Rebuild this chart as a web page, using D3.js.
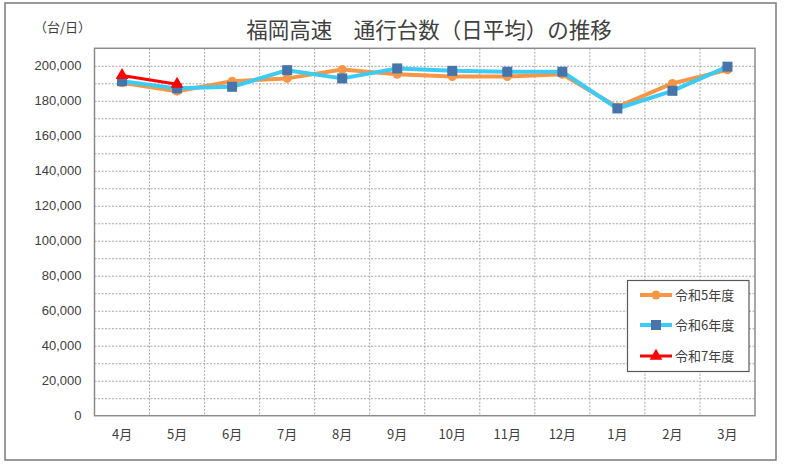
<!DOCTYPE html>
<html>
<head>
<meta charset="utf-8">
<script src="https://cdn.jsdelivr.net/npm/d3@7"></script>
<style>
  body { margin: 0; background: #fff; }
  svg text { font-family: "Noto Sans CJK JP", "Noto Sans", sans-serif; fill: #333; }
</style>
</head>
<body>
<svg id="chart" width="786" height="467"></svg>
<script>
// === Données ===
const months = ["4月", "5月", "6月", "7月", "8月", "9月", "10月", "11月", "12月", "1月", "2月", "3月"];
const r5 = [190300, 185500, 191200, 192800, 197900, 195100, 193900, 193900, 195100, 176500, 189900, 197700];
const r6 = [191200, 187100, 188000, 197500, 192800, 198500, 197100, 196600, 196600, 175600, 185700, 199500];
const r7 = [194500, 189500];
const yTicks = [0, 20000, 40000, 60000, 80000, 100000, 120000, 140000, 160000, 180000, 200000];
const seriesNames = ["令和5年度", "令和6年度", "令和7年度"];

const svg = d3.select('#chart');
const plotL = 94.5, plotR = 755, plotT = 48.3, plotB = 415.7;

// cadre extérieur
svg.append('rect')
  .attr('x', 5).attr('y', 3).attr('width', 771).attr('height', 457)
  .attr('fill', 'none').attr('stroke', '#7a7a7a').attr('stroke-width', 1.5);

// titres
svg.append('text')
  .attr('x', 429).attr('y', 38).attr('text-anchor', 'middle')
  .style('font-size', '21.5px').style('fill', '#404040')
  .text('福岡高速　通行台数（日平均）の推移');

svg.append('text')
  .attr('x', 34).attr('y', 32)
  .style('font-size', '13px').style('fill', '#404040')
  .text('（台/日）');

// === Echelles ===
const x = d3.scaleBand().domain(months).range([plotL, plotR]).padding(0);
const y = d3.scaleLinear().domain([0, 210000]).range([plotB, plotT]);

// grille horizontale (tous les 10 000)
const grid = svg.append('g').attr('transform', `translate(${plotL},0)`)
  .call(d3.axisLeft(y).tickValues(d3.range(10000, 210000, 10000)).tickSize(-(plotR - plotL)).tickFormat(''));
grid.select('.domain').remove();
grid.selectAll('line').attr('stroke', '#a6a6a6').attr('stroke-dasharray', '2,1.5').attr('stroke-width', 1);

// grille verticale (entre les mois)
svg.append('g').selectAll('line')
  .data(months.slice(1))
  .enter().append('line')
  .attr('x1', d => x(d)).attr('x2', d => x(d))
  .attr('y1', plotT).attr('y2', plotB)
  .attr('stroke', '#a6a6a6').attr('stroke-dasharray', '2,1.5').attr('stroke-width', 1);

// cadre de la zone de tracé
svg.append('rect')
  .attr('x', plotL).attr('y', plotT).attr('width', plotR - plotL).attr('height', plotB - plotT)
  .attr('fill', 'none').attr('stroke', '#8c8c8c').attr('stroke-width', 1.5);

// axes
const yAxis = svg.append('g').attr('transform', `translate(${plotL},0)`)
  .call(d3.axisLeft(y).tickValues(yTicks).tickSize(0).tickPadding(13).tickFormat(d3.format(',')));
yAxis.select('.domain').remove();
yAxis.selectAll('text').style('font-size', '13px').style('fill', '#404040')
  .style('font-family', '"Liberation Sans", Arial, sans-serif');

const xAxis = svg.append('g').attr('transform', `translate(0,${plotB})`)
  .call(d3.axisBottom(x).tickSize(0).tickPadding(14));
xAxis.select('.domain').remove();
xAxis.selectAll('text').style('font-size', '13px').style('fill', '#404040');

// === Séries ===
const line = d3.line()
  .x((d, i) => x(months[i]) + x.bandwidth() / 2)
  .y(d => y(d));

const cx = i => x(months[i]) + x.bandwidth() / 2;

// R5 : orange, cercles
svg.append('path').datum(r5).attr('d', line)
  .attr('fill', 'none').attr('stroke', '#F79646').attr('stroke-width', 4).attr('stroke-linejoin', 'round');
svg.append('g').selectAll('circle').data(r5).enter().append('circle')
  .attr('cx', (d, i) => cx(i)).attr('cy', d => y(d)).attr('r', 4.5)
  .attr('fill', '#F79646');

// R6 : bleu clair, carrés
svg.append('path').datum(r6).attr('d', line)
  .attr('fill', 'none').attr('stroke', '#3CCBF4').attr('stroke-width', 4).attr('stroke-linejoin', 'round');
svg.append('g').selectAll('rect').data(r6).enter().append('rect')
  .attr('x', (d, i) => cx(i) - 5).attr('y', d => y(d) - 5)
  .attr('width', 10).attr('height', 10)
  .attr('fill', '#4674AB');

// R7 : rouge, triangles
const tri = d3.symbol().type(d3.symbolTriangle).size(70);
svg.append('path').datum(r7).attr('d', line)
  .attr('fill', 'none').attr('stroke', '#FF0000').attr('stroke-width', 3);
svg.append('g').selectAll('path').data(r7).enter().append('path')
  .attr('d', tri)
  .attr('transform', (d, i) => `translate(${cx(i)},${y(d)})`)
  .attr('fill', '#FF0000');

// === Légende ===
const legend = svg.append('g');
legend.append('rect')
  .attr('x', 627.5).attr('y', 280.5).attr('width', 121.5).attr('height', 91)
  .attr('fill', '#fff').attr('stroke', '#595959').attr('stroke-width', 1.2);

const legendColors = ['#F79646', '#3CCBF4', '#FF0000'];
const legendY = [295, 325, 356];
seriesNames.forEach((name, k) => {
  const g = legend.append('g').attr('transform', `translate(0,${legendY[k]})`);
  g.append('line').attr('x1', 640).attr('x2', 672).attr('y1', 0).attr('y2', 0)
    .attr('stroke', legendColors[k]).attr('stroke-width', k === 2 ? 3 : 4);
  if (k === 0) g.append('circle').attr('cx', 656).attr('cy', 0).attr('r', 4.5).attr('fill', '#F79646');
  if (k === 1) g.append('rect').attr('x', 651).attr('y', -5).attr('width', 10).attr('height', 10).attr('fill', '#4674AB');
  if (k === 2) g.append('path').attr('d', tri).attr('transform', 'translate(656,0)').attr('fill', '#FF0000');
  g.append('text').attr('x', 675).attr('y', 5)
    .style('font-size', '13px').style('fill', '#404040').text(name);
});
</script>
</body>
</html>
